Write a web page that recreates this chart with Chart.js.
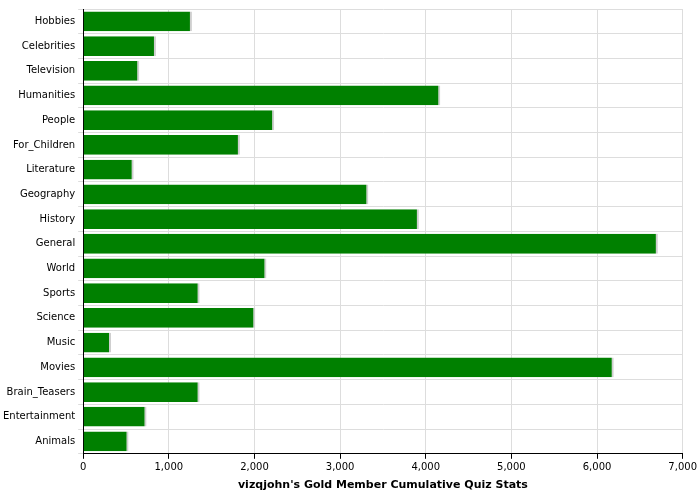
<!DOCTYPE html>
<html><head><script src="https://cdn.jsdelivr.net/npm/chart.js"></script>
<style>body{margin:0;background:#fff}#w{width:700px;height:500px}</style></head>
<body><div id="w"><canvas id="c"></canvas></div>
<script>
const categories=["Hobbies","Celebrities","Television","Humanities","People","For_Children","Literature","Geography","History","General","World","Sports","Science","Music","Movies","Brain_Teasers","Entertainment","Animals"];
const values=[1270,850,655,4170,2230,1830,590,3330,3920,6710,2140,1360,2010,325,6195,1360,740,530];
const ticks=[0,1000,2000,3000,4000,5000,6000,7000];
Chart.defaults.font.family="DejaVu Sans";
Chart.defaults.font.size=10;
Chart.defaults.color="#000";
new Chart(document.getElementById('c'),{type:'bar',
data:{labels:categories,datasets:[{data:values,backgroundColor:'#008000',borderColor:'#cfcfcf',borderWidth:{right:2,top:0,bottom:0,left:0},borderSkipped:false,categoryPercentage:1,barPercentage:0.8}]},
options:{indexAxis:'y',responsive:true,maintainAspectRatio:false,animation:false,
layout:{padding:{top:4,right:6,left:0,bottom:4}},
plugins:{legend:{display:false},tooltip:{enabled:false}},
scales:{x:{min:0,max:7000,afterBuildTicks:a=>{a.ticks=ticks.map(v=>({value:v}));},
grid:{color:'#dddddd',tickColor:'#000',tickLength:5,drawTicks:true},border:{color:'#000',dash:[]},
ticks:{font:{size:10}},
title:{display:true,text:"vizqjohn's Gold Member Cumulative Quiz Stats",font:{size:11,weight:'bold'},padding:{top:2}}},
y:{grid:{color:'#dddddd',offset:true,tickLength:5},border:{color:'#000'},ticks:{font:{size:10}}}}},
plugins:[{id:'dash',beforeDraw(ch){ch.options.scales.x.grid.borderDash;}}]
});
</script></body></html>
